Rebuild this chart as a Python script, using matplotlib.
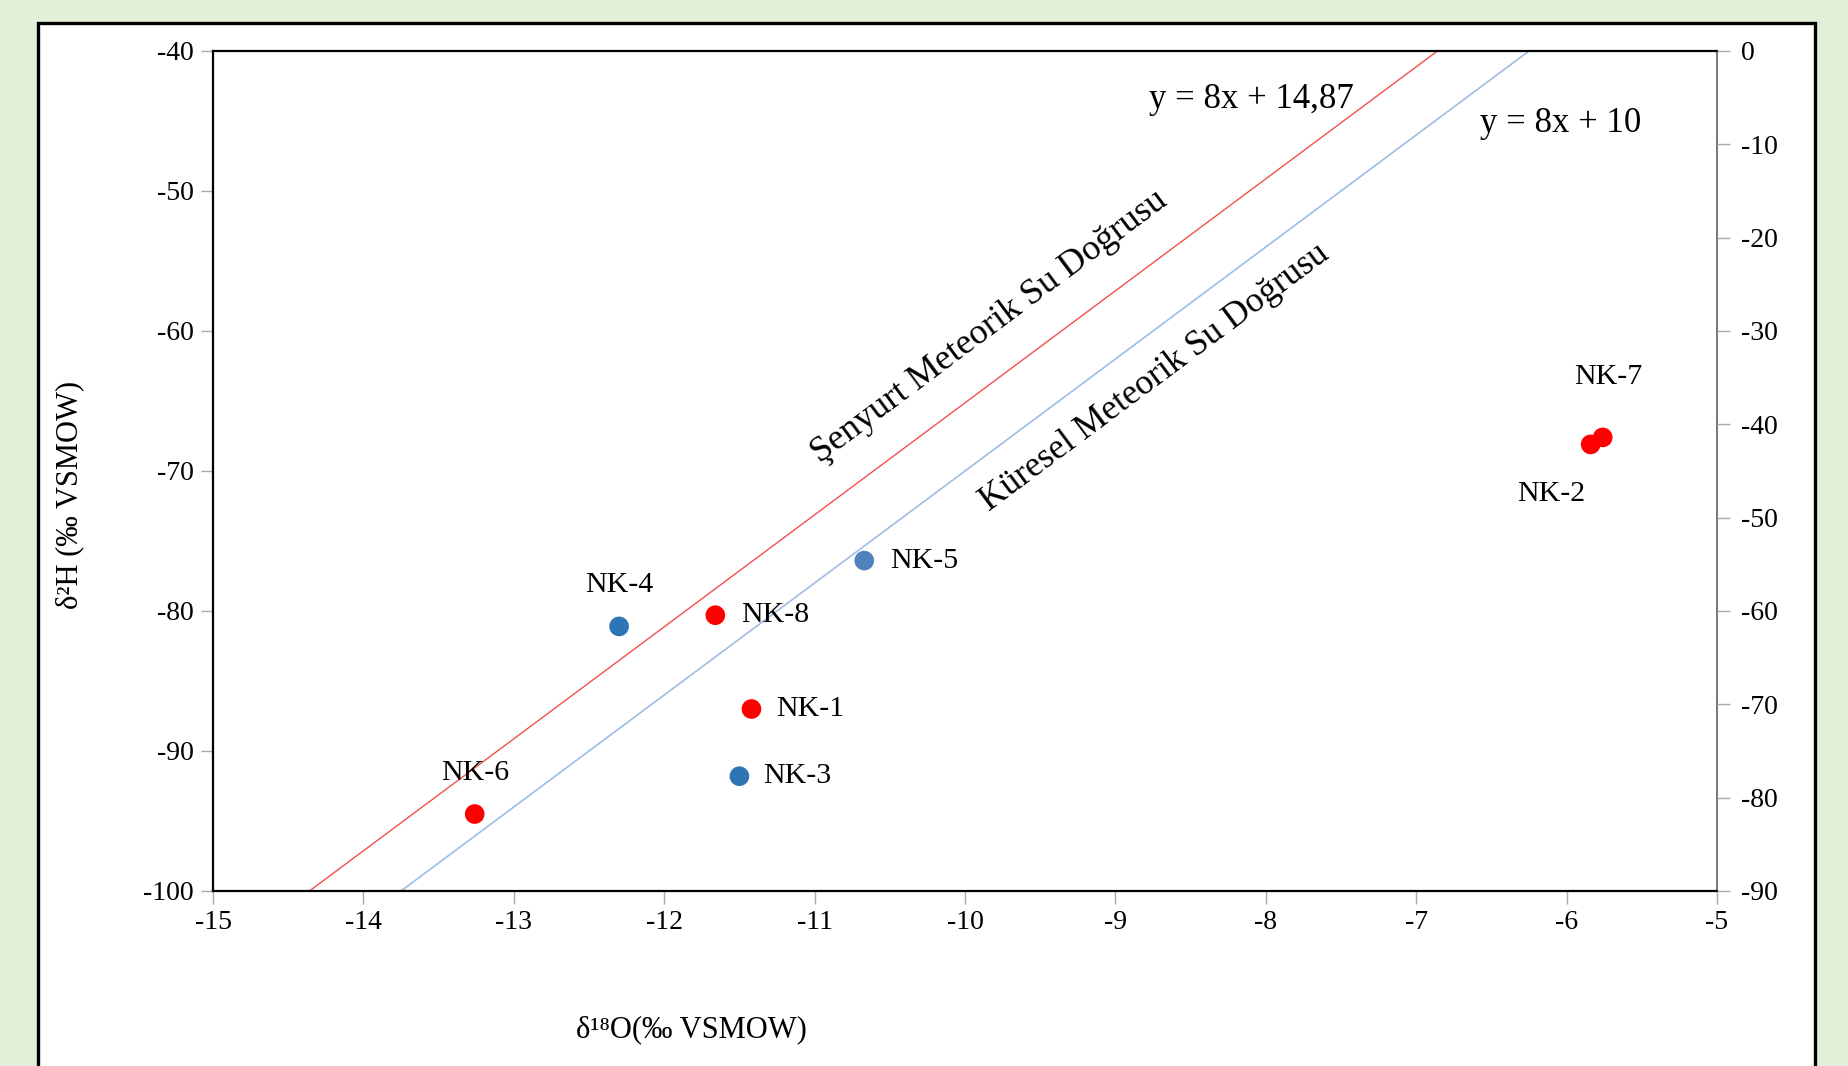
import matplotlib.pyplot as plt
from matplotlib.patches import Rectangle
import numpy as np

plt.rcParams['font.family'] = ['Liberation Serif', 'DejaVu Serif']
plt.rcParams['axes.unicode_minus'] = False

W, H = 1848, 1066

# sample isotopes: delta-18O and delta-2H (permil VSMOW)
samples = ["NK-6", "NK-4", "NK-8", "NK-1", "NK-3", "NK-5", "NK-2", "NK-7"]
d18O = [-13.26, -12.30, -11.66, -11.42, -11.50, -10.67, -5.84, -5.76]
d2H = [-94.5, -81.1, -80.3, -87.0, -91.8, -76.4, -68.1, -67.6]
colors = ["#ff0000", "#2e75b6", "#ff0000", "#ff0000", "#2e75b6", "#4f81bd", "#ff0000", "#ff0000"]
# label offsets in pixels and horizontal alignment
offsets = [(0, 41, "center"), (0, 41, "center"), (26, 0, "left"), (25, 0, "left"),
           (24, 0, "left"), (26, 0, "left"), (-39, -50, "center"), (6, 60, "center")]

# meteoric water lines: y = 8x + d
local_d = 14.87
global_d = 10.0

fig = plt.figure(figsize=(W / 100, H / 100), dpi=100)
fig.patch.set_facecolor("#e2efd9")
fig.patches.append(Rectangle((38 / W, -0.05), (1815 - 38) / W, 1.05 - 23 / H,
                             transform=fig.transFigure, facecolor="white",
                             edgecolor="black", linewidth=2.4, zorder=-5))

ax = fig.add_axes([213 / W, 1 - 891 / H, (1717 - 213) / W, (891 - 51) / H])
ax.set_xlim(-15, -5)
ax.set_ylim(-100, -40)

xs = np.array([-15.0, -5.0])
ax.plot(xs, 8 * xs + local_d, color="#f05050", linewidth=1.0, zorder=2)
ax.plot(xs, 8 * xs + global_d, color="#9dbde3", linewidth=1.2, zorder=2)

ax.scatter(d18O, d2H, s=200, c=colors, edgecolors="none", zorder=4)
for name, x, y, (dx, dy, ha) in zip(samples, d18O, d2H, offsets):
    ax.annotate(name, (x, y), xytext=(dx, dy), textcoords="offset pixels",
                ha=ha, va="center", fontsize=21.5)

ax.set_xticks(np.arange(-15, -4, 1))
ax.set_yticks(np.arange(-100, -39, 10))
ax.tick_params(axis="both", direction="out", length=9, width=1, color="#aaaaaa",
               labelsize=20, pad=5)
for s in ["left", "bottom", "top"]:
    ax.spines[s].set_linewidth(1.6)
    ax.spines[s].set_color("black")
ax.spines["right"].set_color("#777777")
ax.spines["right"].set_linewidth(1.4)

fig.text(1251 / W, 1 - 100 / H, "y = 8x + 14,87", fontsize=25, ha="center", va="center")
fig.text(1561 / W, 1 - 123 / H, "y = 8x + 10", fontsize=25, ha="center", va="center")

# line names drawn along the lines
ax.text(-9.84, -59.7, "Şenyurt Meteorik Su Doğrusu", rotation=36.7, rotation_mode="anchor",
        ha="center", va="center", fontsize=26)
ax.text(-8.74, -63.3, "Küresel Meteorik Su Doğrusu", rotation=36.7, rotation_mode="anchor",
        ha="center", va="center", fontsize=25.5)

ax2 = ax.twinx()
ax2.set_ylim(-90, 0)
ax2.set_yticks(np.arange(-90, 1, 10))
ax2.tick_params(axis="y", direction="out", length=9, width=1, color="#aaaaaa",
                labelsize=20, pad=8)
for s in ax2.spines.values():
    s.set_visible(False)

fig.text(70 / W, 1 - 495 / H, "δ²H (‰ VSMOW)", rotation=90, ha="center", va="center", fontsize=22)
fig.text(691 / W, 1 - 1030 / H, "δ¹⁸O(‰ VSMOW)", ha="center", va="center", fontsize=22)

fig.savefig("out.png", dpi=100, facecolor=fig.get_facecolor())
